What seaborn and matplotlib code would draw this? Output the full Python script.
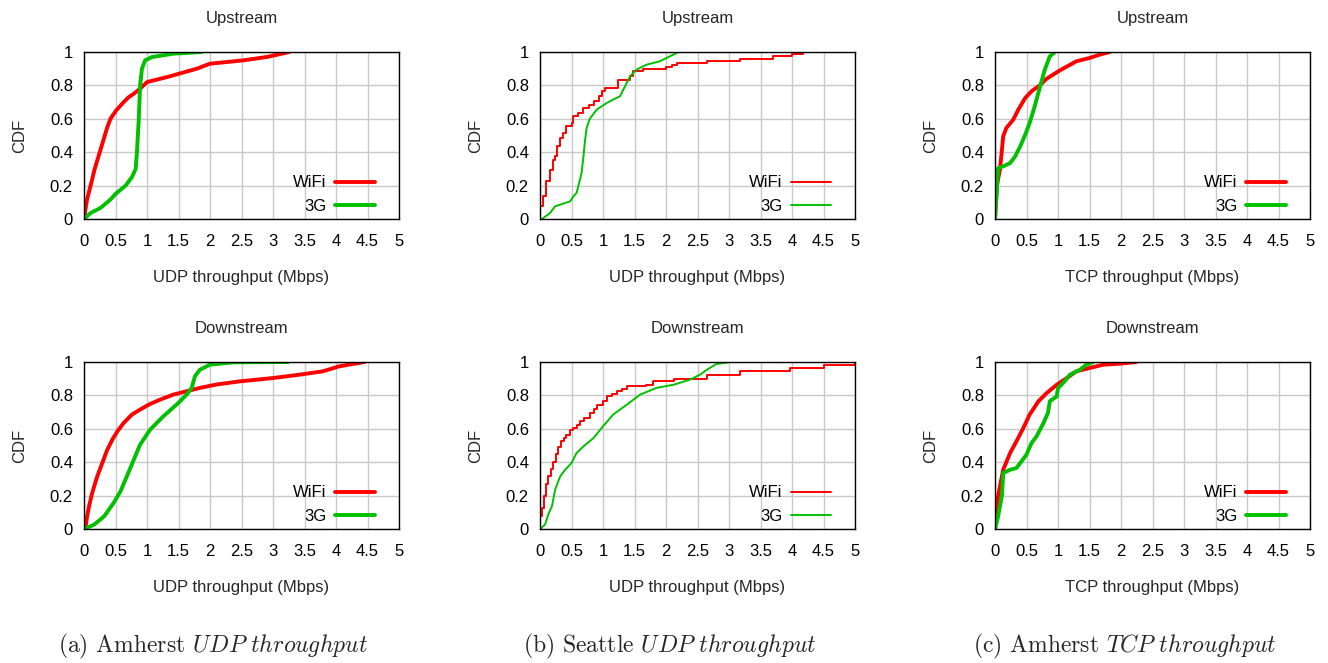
import numpy as np
import pandas as pd
import matplotlib
matplotlib.use("Agg")
import matplotlib.pyplot as plt
import seaborn as sns

# CDF points: (throughput Mbps, CDF)
# (a) Amherst UDP
a_up_wifi_x = [0, 0.02, 0.05, 0.105, 0.17, 0.25, 0.33, 0.37, 0.42, 0.51, 0.63, 0.71, 0.79, 0.89, 1.0, 1.32,
               1.79, 2.0, 2.53, 2.9, 3.26]
a_up_wifi_y = [0, 0.05, 0.12, 0.2, 0.3, 0.4, 0.5, 0.55, 0.6, 0.65, 0.7, 0.73, 0.75, 0.78, 0.82, 0.85,
               0.9, 0.93, 0.95, 0.97, 1.0]
a_up_3g_x = [0, 0.1, 0.26, 0.42, 0.5, 0.66, 0.76, 0.82, 0.84, 0.87, 0.89, 0.92, 0.97, 1.08, 1.42, 1.87]
a_up_3g_y = [0, 0.035, 0.066, 0.116, 0.15, 0.2, 0.25, 0.3, 0.4, 0.6, 0.8, 0.9, 0.95, 0.97, 0.99, 1.0]
a_dn_wifi_x = [0, 0.02, 0.05, 0.08, 0.13, 0.21, 0.29, 0.37, 0.45, 0.53, 0.63, 0.76, 0.89, 1.03, 1.21,
               1.42, 1.63, 1.84, 2.1, 2.47, 3.0, 3.42, 3.79, 4.05, 4.45]
a_dn_wifi_y = [0, 0.0, 0.076, 0.136, 0.216, 0.315, 0.395, 0.475, 0.535, 0.585, 0.635, 0.685, 0.715, 0.745,
               0.775, 0.805, 0.825, 0.845, 0.865, 0.884, 0.904, 0.924, 0.944, 0.974, 1.0]
a_dn_3g_x = [0, 0.16, 0.32, 0.47, 0.58, 0.68, 0.79, 0.89, 1.05, 1.26, 1.47, 1.63, 1.71, 1.76, 1.84, 2.0, 2.37, 3.24]
a_dn_3g_y = [0, 0.026, 0.076, 0.156, 0.226, 0.315, 0.415, 0.505, 0.595, 0.675, 0.745, 0.805, 0.845, 0.914,
             0.954, 0.984, 0.998, 1.0]

# (b) Seattle UDP (WiFi drawn as steps)
b_up_wifi_x = [0, 0.0, 0.05, 0.095, 0.16, 0.2, 0.24, 0.275, 0.32, 0.36, 0.41, 0.5, 0.53, 0.61, 0.69, 0.77,
               0.85, 0.93, 0.98, 1.03, 1.24, 1.43, 1.48, 1.64, 2.0, 2.1, 2.17, 2.65, 3.17, 3.7, 4.0, 4.18]
b_up_wifi_y = [0, 0.076, 0.136, 0.225, 0.295, 0.355, 0.375, 0.435, 0.485, 0.515, 0.555, 0.575, 0.615, 0.635,
               0.665, 0.685, 0.705, 0.735, 0.765, 0.785, 0.834, 0.854, 0.884, 0.898, 0.91, 0.925, 0.934,
               0.944, 0.96, 0.975, 0.99, 1.0]
b_up_3g_x = [0, 0.03, 0.16, 0.24, 0.32, 0.48, 0.53, 0.58, 0.61, 0.66, 0.69, 0.71, 0.74, 0.79, 0.9, 1.06, 1.16,
             1.27, 1.35, 1.43, 1.53, 1.69, 1.9, 2.06, 2.2]
b_up_3g_y = [0, 0.0, 0.036, 0.076, 0.086, 0.106, 0.136, 0.156, 0.2, 0.275, 0.375, 0.455, 0.545, 0.6, 0.655,
             0.695, 0.715, 0.735, 0.795, 0.855, 0.894, 0.924, 0.944, 0.974, 1.0]
b_dn_wifi_x = [0, 0.0, 0.03, 0.06, 0.09, 0.13, 0.17, 0.21, 0.25, 0.29, 0.34, 0.38, 0.42, 0.48, 0.53, 0.58,
               0.63, 0.7, 0.79, 0.85, 0.9, 1.0, 1.06, 1.15, 1.22, 1.3, 1.38, 1.69, 1.8, 2.12, 2.65, 3.17,
               3.97, 4.5, 5.0]
b_dn_wifi_y = [0, 0.076, 0.126, 0.2, 0.27, 0.32, 0.36, 0.4, 0.45, 0.49, 0.525, 0.545, 0.565, 0.59, 0.605,
               0.62, 0.645, 0.665, 0.695, 0.72, 0.745, 0.764, 0.798, 0.81, 0.824, 0.84, 0.854, 0.864, 0.888,
               0.9, 0.924, 0.944, 0.964, 0.984, 0.994]
b_dn_3g_x = [0, 0.08, 0.13, 0.19, 0.24, 0.32, 0.4, 0.5, 0.58, 0.69, 0.85, 1.0, 1.16, 1.38, 1.59, 1.85, 2.12,
             2.38, 2.54, 2.65, 2.8, 3.02]
b_dn_3g_y = [0, 0.026, 0.086, 0.136, 0.236, 0.315, 0.355, 0.395, 0.455, 0.495, 0.545, 0.615, 0.685, 0.745,
             0.805, 0.845, 0.864, 0.894, 0.924, 0.954, 0.988, 1.0]

# (c) Amherst TCP
c_up_wifi_x = [0, 0.03, 0.08, 0.11, 0.13, 0.18, 0.29, 0.37, 0.48, 0.58, 0.71, 0.82, 1.03, 1.29, 1.5, 1.66, 1.82]
c_up_wifi_y = [0, 0.2, 0.3, 0.415, 0.495, 0.545, 0.595, 0.655, 0.725, 0.765, 0.8, 0.84, 0.89, 0.944, 0.964,
               0.984, 1.0]
c_up_3g_x = [0, 0.05, 0.13, 0.24, 0.32, 0.4, 0.48, 0.55, 0.63, 0.71, 0.79, 0.87, 0.95]
c_up_3g_y = [0, 0.305, 0.315, 0.335, 0.375, 0.435, 0.505, 0.575, 0.675, 0.785, 0.894, 0.974, 1.0]
c_dn_wifi_x = [0, 0.05, 0.13, 0.24, 0.34, 0.45, 0.55, 0.69, 0.82, 0.98, 1.14, 1.29, 1.5, 1.72, 1.98, 2.24]
c_dn_wifi_y = [0, 0.2, 0.355, 0.455, 0.525, 0.605, 0.685, 0.765, 0.814, 0.864, 0.904, 0.944, 0.964, 0.984,
               0.99, 1.0]
c_dn_3g_x = [0, 0.05, 0.11, 0.13, 0.24, 0.34, 0.42, 0.5, 0.58, 0.66, 0.77, 0.84, 0.87, 0.98, 1.0, 1.08, 1.19,
             1.35, 1.45, 1.56]
c_dn_3g_y = [0, 0.076, 0.2, 0.335, 0.355, 0.365, 0.405, 0.445, 0.515, 0.555, 0.635, 0.695, 0.765, 0.794,
             0.844, 0.874, 0.924, 0.954, 0.984, 1.0]

xticks = [0, 0.5, 1, 1.5, 2, 2.5, 3, 3.5, 4, 4.5, 5]
yticks = [0, 0.2, 0.4, 0.6, 0.8, 1]
xlabels = ["UDP throughput (Mbps)", "UDP throughput (Mbps)", "TCP throughput (Mbps)"]
captions = [("(a) Amherst ", "UDP throughput"), ("(b) Seattle ", "UDP throughput"),
            ("(c) Amherst ", "TCP throughput")]

panels = [
    [(a_up_wifi_x, a_up_wifi_y, a_up_3g_x, a_up_3g_y), (a_dn_wifi_x, a_dn_wifi_y, a_dn_3g_x, a_dn_3g_y)],
    [(b_up_wifi_x, b_up_wifi_y, b_up_3g_x, b_up_3g_y), (b_dn_wifi_x, b_dn_wifi_y, b_dn_3g_x, b_dn_3g_y)],
    [(c_up_wifi_x, c_up_wifi_y, c_up_3g_x, c_up_3g_y), (c_dn_wifi_x, c_dn_wifi_y, c_dn_3g_x, c_dn_3g_y)],
]
line_w = [2.8, 1.4, 2.8]
wifi_steps = [False, True, False]

sns.set_theme(style="whitegrid")
plt.rcParams["font.family"] = ["Liberation Sans", "DejaVu Sans"]
plt.rcParams["mathtext.fontset"] = "cm"

FS = 12
fig = plt.figure(figsize=(13.28, 6.63), dpi=100)
lefts = [84, 540, 995]
bottoms = [219, 529]
W, H = 1328, 663
RED, GREEN = "#ff0000", "#00c000"

for col in range(3):
    for row in range(2):
        ax = fig.add_axes([lefts[col] / W, 1 - bottoms[row] / H, 315 / W, 167 / H])
        wx, wy, gx, gy = panels[col][row]
        kw = {"drawstyle": "steps-post"} if wifi_steps[col] else {}
        sns.lineplot(x=wx, y=wy, color=RED, sort=False, estimator=None,
                     linewidth=line_w[col], label="WiFi", ax=ax, **kw)
        sns.lineplot(x=gx, y=gy, color=GREEN, sort=False, estimator=None,
                     linewidth=line_w[col], label="3G", ax=ax)
        ax.set_xlim(0, 5)
        ax.set_ylim(0, 1)
        ax.set_xticks(xticks)
        ax.set_xticklabels([f"{t:g}" for t in xticks])
        ax.set_yticks(yticks)
        ax.set_yticklabels([f"{t:g}" for t in yticks])
        ax.grid(True, color="#c8c8c8", linewidth=1.0)
        ax.set_facecolor("white")
        for s in ax.spines.values():
            s.set_color("black")
            s.set_linewidth(1.0)
        ax.tick_params(axis="x", labelsize=FS, colors="black", length=0, pad=11)
        ax.tick_params(axis="y", labelsize=FS, colors="black", length=0, pad=8)
        ax.set_title("Upstream" if row == 0 else "Downstream", fontsize=FS, pad=21)
        ax.set_xlabel(xlabels[col], fontsize=FS, labelpad=15)
        ax.set_ylabel("CDF", fontsize=FS, labelpad=16)
        leg = ax.legend(loc="lower right", bbox_to_anchor=(0.944, -0.008), frameon=False,
                        markerfirst=False, fontsize=FS, handlelength=2.4, handletextpad=0.5,
                        borderaxespad=0, labelspacing=0.5)
        for t in leg.get_texts():
            t.set_color("black")
    name, italic = captions[col]
    fig.text((lefts[col] + 315 / 2 - 28) / W, 1 - 652 / H,
             name + r"$\mathit{" + italic.replace(" ", r"\ ") + "}$",
             ha="center", va="baseline", fontsize=17, family="cmr10")

fig.savefig("out.png", dpi=100)
